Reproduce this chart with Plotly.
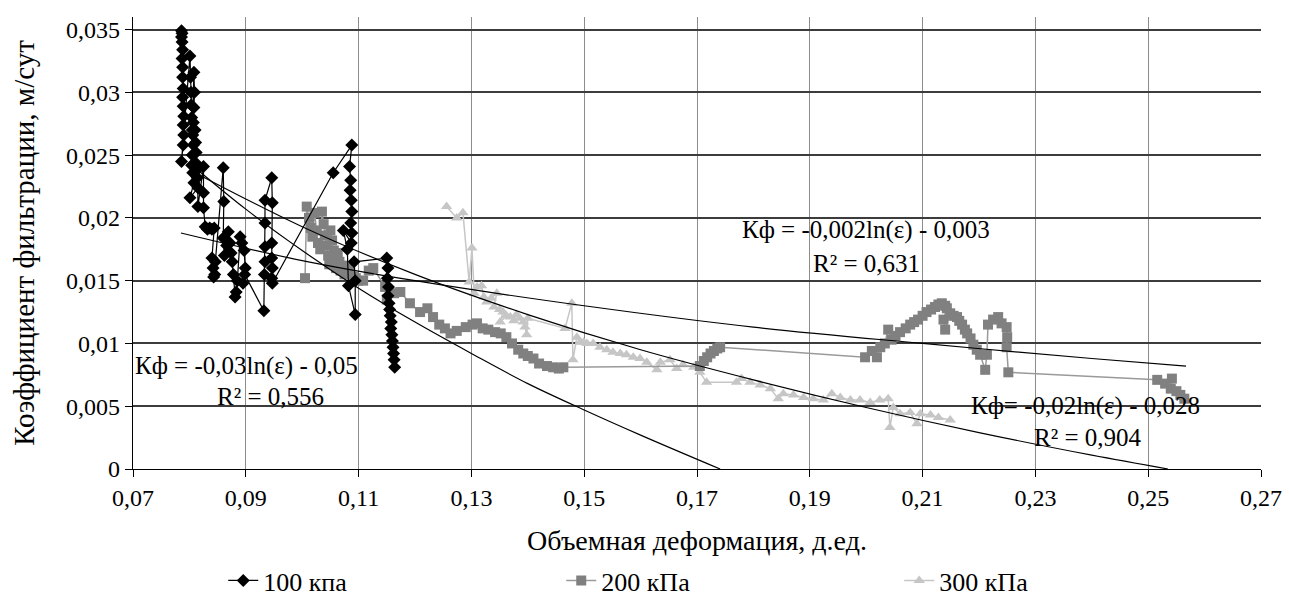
import plotly.graph_objects as go

# ---------------- data ----------------
x_100 = [0.0786, 0.0787, 0.0786, 0.0787, 0.0788, 0.0787, 0.0788, 0.0788, 0.0789, 0.0788,
         0.0789, 0.0790, 0.0789, 0.0790, 0.0789, 0.0786,
         0.0801, 0.0802, 0.0803, 0.0803, 0.0804, 0.0805, 0.0808, 0.0809, 0.0808, 0.0807,
         0.0806, 0.0807, 0.0805, 0.0804, 0.0806, 0.0810, 0.0811, 0.0812, 0.0811, 0.0813,
         0.0814, 0.0808, 0.0801, 0.0815, 0.0815,
         0.0825, 0.0825, 0.0825, 0.0828, 0.0832, 0.0836, 0.0840, 0.0844, 0.0840, 0.0842,
         0.0845, 0.0843, 0.0846,
         0.0860, 0.0861, 0.0860, 0.0862, 0.0866, 0.0869, 0.0872, 0.0874, 0.0876, 0.0878,
         0.0881, 0.0883, 0.0885, 0.0890, 0.0893, 0.0897, 0.0899, 0.0895, 0.0898,
         0.0932, 0.0933, 0.0934, 0.0934, 0.0934, 0.0934, 0.0946, 0.0947, 0.0946, 0.0946,
         0.0947, 0.0946, 0.0947,
         0.1055, 0.1088, 0.1084, 0.1086, 0.1085, 0.1087, 0.1088, 0.1086, 0.1088, 0.1087,
         0.1073, 0.1080, 0.1082, 0.1094, 0.1094, 0.1092,
         0.1150, 0.1152, 0.1151, 0.1153, 0.1152, 0.1154, 0.1155, 0.1156, 0.1158, 0.1157,
         0.1159, 0.1160, 0.1161, 0.1162, 0.1163, 0.1164]
y_100 = [0.0349, 0.0347, 0.0344, 0.0340, 0.0334, 0.0327, 0.0320, 0.0312, 0.0303, 0.0296,
         0.0289, 0.0281, 0.0274, 0.0266, 0.0258, 0.0245,
         0.0329, 0.0312, 0.0300, 0.0290, 0.0280, 0.0270, 0.0316, 0.0300, 0.0288, 0.0276,
         0.0266, 0.0258, 0.0250, 0.0242, 0.0236, 0.0270, 0.0260, 0.0252, 0.0244, 0.0238,
         0.0232, 0.0228, 0.0216, 0.0224, 0.0209,
         0.0241, 0.0220, 0.0208, 0.0193, 0.0191, 0.0192, 0.0191, 0.0192, 0.0168, 0.0160,
         0.0155, 0.0153, 0.0165,
         0.0240, 0.0213, 0.0184, 0.0170, 0.0178, 0.0189, 0.0180, 0.0172, 0.0165, 0.0155,
         0.0137, 0.0141, 0.0150, 0.0185, 0.0180, 0.0174, 0.0160, 0.0148, 0.0155,
         0.0126, 0.0155, 0.0165, 0.0177, 0.0196, 0.0214, 0.0232, 0.0212, 0.0180, 0.0168,
         0.0160, 0.0152, 0.0148,
         0.0236, 0.0258, 0.0241, 0.0230, 0.0222, 0.0214, 0.0205, 0.0196, 0.0188, 0.0180,
         0.0190, 0.0175, 0.0146, 0.0123, 0.0150, 0.0165,
         0.0168, 0.0160, 0.0152, 0.0145, 0.0138, 0.0132, 0.0127, 0.0122, 0.0117, 0.0112,
         0.0107, 0.0102, 0.0097, 0.0092, 0.0087, 0.0081]

x_200 = [0.1005, 0.1008, 0.1012, 0.1015, 0.1018, 0.1022, 0.1025, 0.1028, 0.1032, 0.1035,
         0.1038, 0.1040, 0.1043, 0.1046, 0.1048, 0.1050, 0.1053, 0.1056, 0.1058, 0.1060,
         0.1063, 0.1066, 0.1068, 0.1072, 0.1075, 0.1080, 0.1085, 0.1090, 0.1095, 0.1100,
         0.1108, 0.1118, 0.1126, 0.1147, 0.1150, 0.1163, 0.1174, 0.1191, 0.1209, 0.1222,
         0.1232, 0.1243, 0.1253, 0.1263, 0.1274, 0.1290, 0.1302, 0.1310, 0.1320, 0.1330,
         0.1342, 0.1352, 0.1362, 0.1372, 0.1383, 0.1392, 0.1400, 0.1410, 0.1420, 0.1434,
         0.1445, 0.1455, 0.1463,
         0.1705, 0.1712, 0.1718, 0.1724, 0.1730, 0.1736, 0.1741,
         0.1998, 0.2010, 0.2019, 0.2025, 0.2033, 0.2039, 0.2045, 0.2052, 0.2060, 0.2070,
         0.2078, 0.2085, 0.2092, 0.2100, 0.2107, 0.2115, 0.2122, 0.2128, 0.2134, 0.2140,
         0.2143, 0.2137, 0.2140, 0.2149, 0.2155, 0.2161, 0.2165, 0.2170, 0.2175, 0.2179,
         0.2185, 0.2190, 0.2196, 0.2202, 0.2211, 0.2214, 0.2216, 0.2225, 0.2234, 0.2240,
         0.2249, 0.2250, 0.2249, 0.2252,
         0.2516, 0.2530, 0.2542, 0.2540, 0.2550, 0.2557, 0.2564]
y_200 = [0.0152, 0.0209, 0.0200, 0.0192, 0.0185, 0.0204, 0.0190, 0.0180, 0.0175, 0.0205,
         0.0195, 0.0186, 0.0178, 0.0170, 0.0163, 0.0190, 0.0182, 0.0174, 0.0168, 0.0160,
         0.0172, 0.0165, 0.0158, 0.0162, 0.0155, 0.0160, 0.0157, 0.0153, 0.0152, 0.0150,
         0.0150, 0.0158, 0.0160, 0.0145, 0.0135, 0.0140, 0.0141, 0.0132, 0.0125, 0.0128,
         0.0121, 0.0115, 0.0112, 0.0108, 0.0110, 0.0113, 0.0115, 0.0116, 0.0112, 0.0111,
         0.0109, 0.0108, 0.0105, 0.0100, 0.0095, 0.0092, 0.0090, 0.0088, 0.0084, 0.0082,
         0.0081, 0.0080, 0.0081,
         0.0082, 0.0086, 0.0089, 0.0092, 0.0094, 0.0096, 0.0097,
         0.0089, 0.0094, 0.0089, 0.0097, 0.0100, 0.0111, 0.0103, 0.0106, 0.0109, 0.0112,
         0.0115, 0.0117, 0.0119, 0.0122, 0.0125, 0.0127, 0.0129, 0.0131, 0.0132, 0.0130,
         0.0128, 0.0119, 0.0111, 0.0124, 0.0122, 0.0121, 0.0118, 0.0115, 0.0111, 0.0108,
         0.0104, 0.0099, 0.0095, 0.0091, 0.0079, 0.0091, 0.0115, 0.0119, 0.0121, 0.0116,
         0.0113, 0.0105, 0.0097, 0.0077,
         0.0071, 0.0068, 0.0072, 0.0064, 0.0062, 0.0059, 0.0056]

x_300 = [0.1256, 0.1274, 0.1285, 0.1296, 0.1301, 0.1305, 0.1310, 0.1318, 0.1322, 0.1327,
         0.1335, 0.1345, 0.1340, 0.1350, 0.1356, 0.1351, 0.1362, 0.1369, 0.1375, 0.1380,
         0.1386, 0.1392, 0.1395, 0.1398, 0.1400,
         0.1466, 0.1478, 0.1480, 0.1487, 0.1493, 0.1499, 0.1505, 0.1516, 0.1528, 0.1540,
         0.1551, 0.1564, 0.1575, 0.1587, 0.1599, 0.1611, 0.1629, 0.1635, 0.1652, 0.1664,
         0.1675, 0.1694, 0.1705, 0.1717,
         0.1770, 0.1779, 0.1794, 0.1812, 0.1830, 0.1844, 0.1853, 0.1871, 0.1889, 0.1906,
         0.1924, 0.1939, 0.1954, 0.1972, 0.1989, 0.2007, 0.2024, 0.2039, 0.2042, 0.2048,
         0.2060, 0.2078, 0.2090, 0.2096, 0.2114, 0.2128, 0.2149]
y_300 = [0.0209, 0.0200, 0.0204, 0.0149, 0.0176, 0.0140, 0.0145, 0.0146, 0.0137, 0.0133,
         0.0136, 0.0140, 0.0129, 0.0127, 0.0125, 0.0117, 0.0122, 0.0121, 0.0118, 0.0123,
         0.0120, 0.0117, 0.0113, 0.0107, 0.0120,
         0.0112, 0.0132, 0.0087, 0.0105, 0.0101, 0.0101, 0.0100, 0.0100, 0.0097, 0.0095,
         0.0093, 0.0092, 0.0091, 0.0089, 0.0088, 0.0085, 0.0079, 0.0085, 0.0087, 0.0080,
         0.0083, 0.0081, 0.0077, 0.0069,
         0.0069, 0.0072, 0.0069, 0.0067, 0.0064, 0.0056, 0.0060, 0.0059, 0.0057, 0.0056,
         0.0055, 0.0060, 0.0057, 0.0055, 0.0055, 0.0053, 0.0055, 0.0056, 0.0033, 0.0049,
         0.0044, 0.0045, 0.0036, 0.0044, 0.0043, 0.0041, 0.0039]

# trend lines
xt_100 = [0.081, 0.09, 0.10, 0.11, 0.12, 0.13, 0.14, 0.15, 0.16, 0.1741]
yt_100 = [0.0240, 0.0207, 0.0174, 0.0144, 0.0117, 0.0092, 0.0068, 0.0047, 0.0027, 0.0]
xt_300 = [0.081, 0.10, 0.12, 0.14, 0.16, 0.18, 0.20, 0.22, 0.24, 0.2535]
yt_300 = [0.0236, 0.0193, 0.0155, 0.0123, 0.0095, 0.0071, 0.0049, 0.0029, 0.0011, 0.0]
xt_200 = [0.0785, 0.10, 0.12, 0.15, 0.18, 0.21, 0.24, 0.2567]
yt_200 = [0.0188, 0.0166, 0.0150, 0.0130, 0.0113, 0.0100, 0.0088, 0.0082]

series_names = ["100 кпа", "200 кПа", "300 кПа"]
x_ticks = [0.07, 0.09, 0.11, 0.13, 0.15, 0.17, 0.19, 0.21, 0.23, 0.25, 0.27]
x_ticktext = ["0,07", "0,09", "0,11", "0,13", "0,15", "0,17", "0,19", "0,21", "0,23", "0,25", "0,27"]
y_ticks = [0, 0.005, 0.01, 0.015, 0.02, 0.025, 0.03, 0.035]
y_ticktext = ["0", "0,005", "0,01", "0,015", "0,02", "0,025", "0,03", "0,035"]

eq_labels = [
    ("Кф = -0,002ln(ε) - 0,003", 0.2000, 0.0190),
    ("R² = 0,631", 0.2000, 0.0164),
    ("Кф = -0,03ln(ε) - 0,05", 0.0902, 0.0082),
    ("R² = 0,556", 0.0943, 0.0058),
    ("Кф= -0,02ln(ε) - 0,028", 0.2388, 0.0050),
    ("R² = 0,904", 0.2393, 0.0025),
]

FONT = "Liberation Serif"

fig = go.Figure()

fig.add_trace(go.Scatter(
    x=x_300, y=y_300, name=series_names[2], mode="lines+markers",
    line=dict(color="#c6c6c6", width=1.5),
    marker=dict(symbol="triangle-up", size=10, color="#c6c6c6"),
    legendrank=3))
fig.add_trace(go.Scatter(
    x=x_200, y=y_200, name=series_names[1], mode="lines+markers",
    line=dict(color="#9a9a9a", width=1.5),
    marker=dict(symbol="square", size=10, color="#808080"),
    legendrank=2))
fig.add_trace(go.Scatter(
    x=x_100, y=y_100, name=series_names[0], mode="lines+markers",
    line=dict(color="#000000", width=1.2),
    marker=dict(symbol="diamond", size=10, color="#000000"),
    legendrank=1))

for xt, yt in [(xt_100, yt_100), (xt_300, yt_300), (xt_200, yt_200)]:
    fig.add_trace(go.Scatter(
        x=xt, y=yt, mode="lines", showlegend=False, hoverinfo="skip",
        line=dict(color="#000000", width=1.2, shape="spline", smoothing=1.0)))

for txt, xx, yy in eq_labels:
    fig.add_annotation(x=xx, y=yy, xref="x", yref="y", text=txt, showarrow=False,
                       font=dict(family=FONT, size=25, color="#000000"),
                       xanchor="center", yanchor="middle")

fig.update_layout(
    width=1289, height=604,
    margin=dict(l=133, r=28, t=17, b=135),
    paper_bgcolor="white", plot_bgcolor="white",
    font=dict(family=FONT, size=22, color="#000000"),
    legend=dict(orientation="h", x=0.08, xref="paper", y=0.0, yref="container",
                xanchor="left", yanchor="bottom",
                font=dict(family=FONT, size=26), entrywidth=293,
                traceorder="normal", bgcolor="rgba(0,0,0,0)"),
    xaxis=dict(range=[0.07, 0.27], tickvals=x_ticks, ticktext=x_ticktext,
               showgrid=True, gridcolor="#8c8c8c", gridwidth=1.3,
               showline=True, linecolor="#000000", linewidth=1.2,
               ticks="outside", ticklen=7, tickcolor="#000000",
               tickfont=dict(family=FONT, size=24), zeroline=False, automargin=False,
               title=dict(text="Объемная деформация, д.ед.",
                          font=dict(family=FONT, size=28), standoff=20)),
    yaxis=dict(range=[0, 0.036], tickvals=y_ticks, ticktext=y_ticktext,
               showgrid=True, gridcolor="#3c3c3c", gridwidth=1.6,
               showline=True, linecolor="#000000", linewidth=1.2,
               ticks="outside", ticklen=7, tickcolor="#000000",
               tickfont=dict(family=FONT, size=24), zeroline=False, automargin=False,
               title=dict(text="Коэффициент фильтрации, м/сут",
                          font=dict(family=FONT, size=29), standoff=22)),
)

fig.write_html("out.html")
